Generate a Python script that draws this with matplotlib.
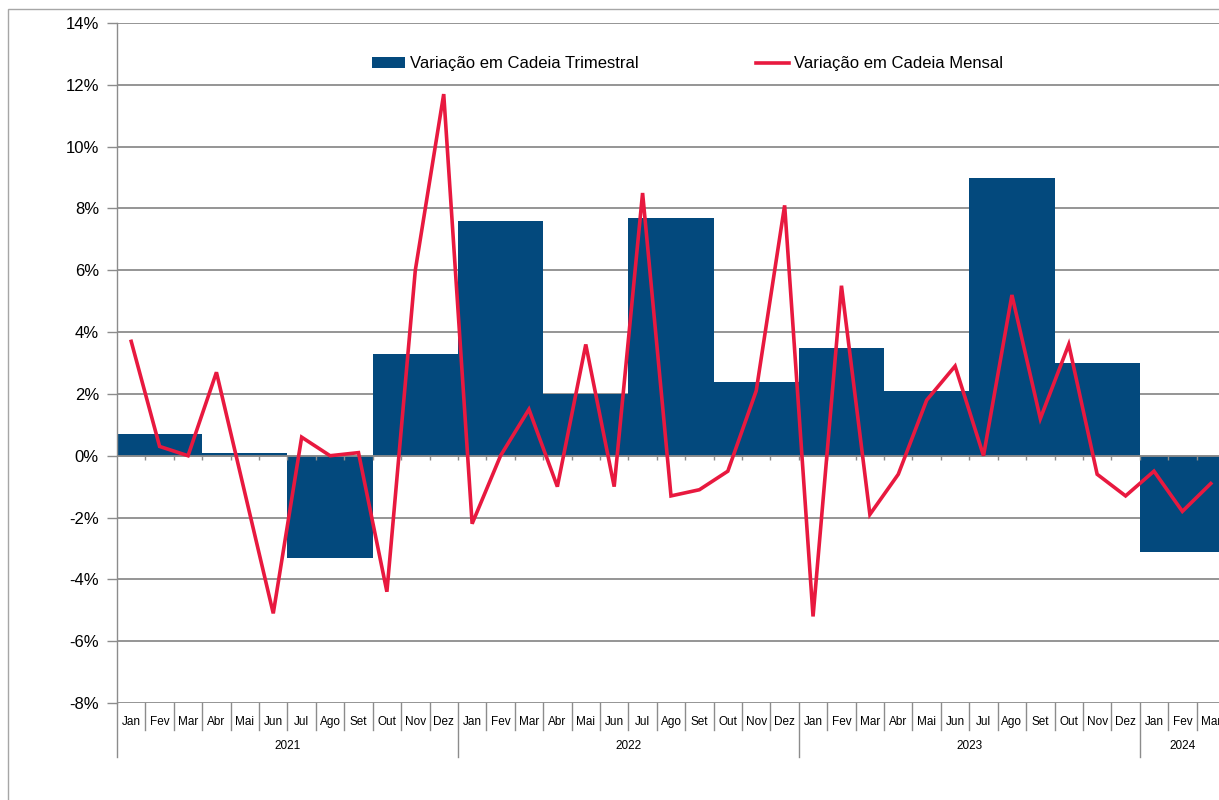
import matplotlib.pyplot as plt
from matplotlib.patches import Rectangle, Patch
from matplotlib.lines import Line2D

plt.rcParams['font.family'] = ['Liberation Sans', 'DejaVu Sans']

# dados
months = ['Jan', 'Fev', 'Mar', 'Abr', 'Mai', 'Jun', 'Jul', 'Ago', 'Set', 'Out', 'Nov', 'Dez'] * 3 + ['Jan', 'Fev', 'Mar']
years = ['2021', '2022', '2023', '2024']
year_months = [12, 12, 12, 3]
mensal = [3.7, 0.3, 0.0, 2.7, -1.2, -5.1, 0.6, 0.0, 0.1, -4.4, 6.0, 11.7,
          -2.2, 0.0, 1.5, -1.0, 3.6, -1.0, 8.5, -1.3, -1.1, -0.5, 2.1, 8.1,
          -5.2, 5.5, -1.9, -0.6, 1.8, 2.9, 0.0, 5.2, 1.2, 3.6, -0.6, -1.3,
          -0.5, -1.8, -0.9]
trimestral = [0.7, 0.1, -3.3, 3.3, 7.6, 2.0, 7.7, 2.4, 3.5, 2.1, 9.0, 3.0, -3.1]

bar_color = '#03497D'
line_color = '#E8193F'
grid_color = '#8C8C8C'

W, H = 1219, 800
fig = plt.figure(figsize=(W / 100, H / 100), dpi=100)
ax = fig.add_axes([117 / W, 1 - 703 / H, (1225 - 117) / W, 680 / H])

# moldura do gráfico
fig.patches.append(Rectangle((8 / W, -0.1), 1.2, 1.1 - 9 / H, transform=fig.transFigure,
                             fill=False, edgecolor='#A6A6A6', linewidth=1.0))

n = len(mensal)
x = list(range(n))
qx = [3 * i + 1 for i in range(len(trimestral))]

ax.bar(qx, trimestral, width=3, color=bar_color, zorder=2)
ax.axhline(0, color=grid_color, linewidth=1.3, zorder=3)
ax.vlines([i - 0.5 for i in range(1, n)], -0.13, 0, color=grid_color, linewidth=1.0, zorder=3)
ax.plot(x, mensal, color=line_color, linewidth=2.6, zorder=4, solid_joinstyle='miter')

ax.set_xlim(-0.5, n - 0.5)
ax.set_ylim(-8, 14)
yt = list(range(-8, 15, 2))
ax.set_yticks(yt)
ax.set_yticklabels([f'{v}%' for v in yt], fontsize=12)
ax.yaxis.grid(True, color=grid_color, linewidth=1.3)
ax.set_axisbelow(True)
ax.tick_params(axis='y', length=7, color=grid_color, width=1.0, pad=6)

for s in ['top', 'right', 'bottom']:
    ax.spines[s].set_visible(False)
ax.spines['left'].set_color(grid_color)
ax.spines['left'].set_linewidth(1.0)
ax.spines['left'].set_bounds(-8, 14)

ax.set_xticks(x)
ax.set_xticklabels(months, fontsize=8.5, va='baseline')
ax.tick_params(axis='x', length=0, pad=15.5)

# linhas separadoras dos meses e anos
trans = ax.get_xaxis_transform()
yr_bounds = [0]
for m in year_months:
    yr_bounds.append(yr_bounds[-1] + m)
for i in range(0, n):
    b = i - 0.5
    if i in yr_bounds:
        ax.plot([b, b], [0, -54 / 680], transform=trans, color=grid_color, linewidth=1.0, clip_on=False)
    else:
        ax.plot([b, b], [0, -27 / 680], transform=trans, color=grid_color, linewidth=1.0, clip_on=False)
for k, yname in enumerate(years):
    c = (yr_bounds[k] + yr_bounds[k + 1] - 1) / 2
    ax.text(c, -43 / 680, yname, transform=trans, ha='center', va='center', fontsize=8.5)

handles = [Patch(facecolor=bar_color, edgecolor='none'),
           Line2D([0], [0], color=line_color, linewidth=2.6)]
ax.legend(handles, ['Variação em Cadeia Trimestral', 'Variação em Cadeia Mensal'],
          loc='center', bbox_to_anchor=(0.515, 0.94), ncol=2, frameon=False,
          fontsize=12, handlelength=2.0, handleheight=0.6, handletextpad=0.3,
          columnspacing=7.0)

fig.savefig('out.png', dpi=100)
